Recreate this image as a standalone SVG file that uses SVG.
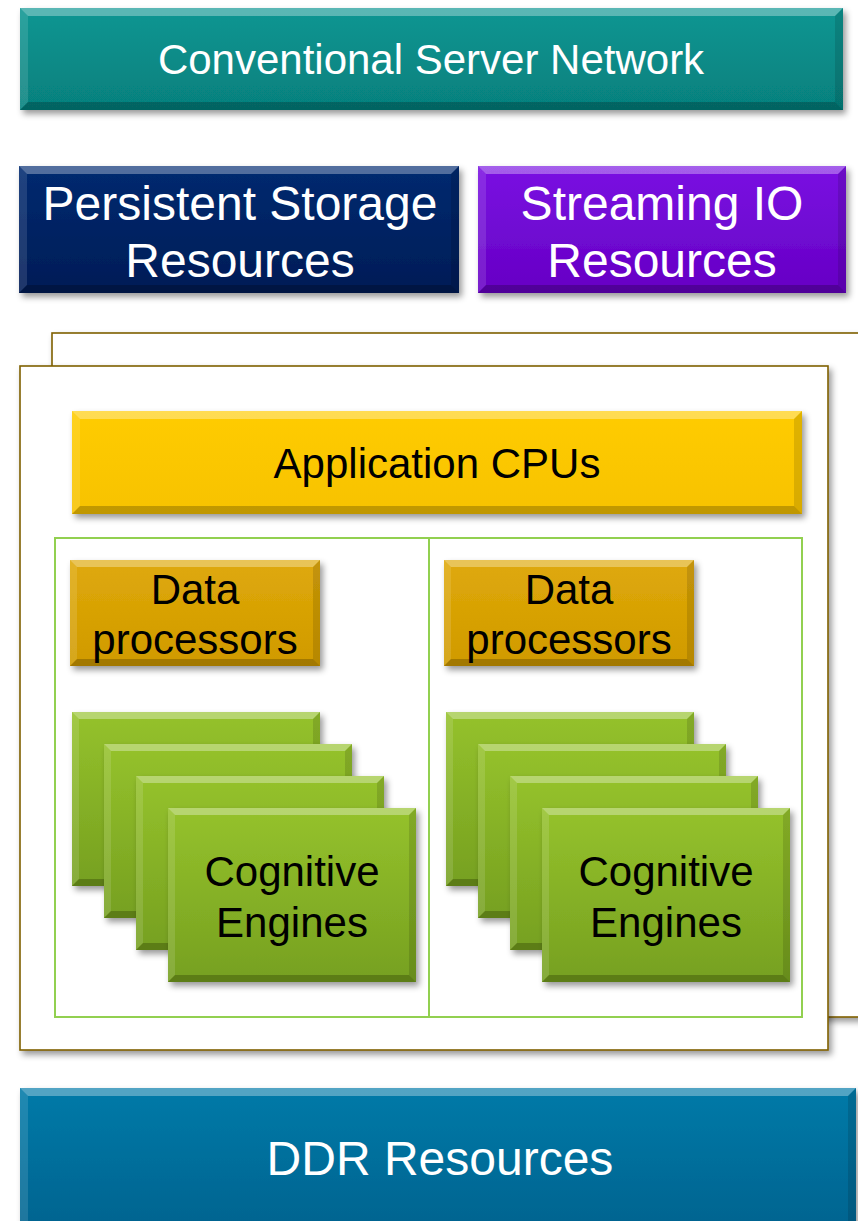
<svg xmlns="http://www.w3.org/2000/svg" xmlns:xlink="http://www.w3.org/1999/xlink" width="858" height="1221" viewBox="0 0 858 1221">
  <style>
    text { font-family: "Liberation Sans", Arial, sans-serif; text-anchor: middle; }
    .w { fill: #ffffff; }
    .k { fill: #000000; }
    .f42 { font-size: 42px; }
    .f48 { font-size: 48px; }
    .bt { fill: #ffffff; fill-opacity: 0.32; }
    .bl { fill: #ffffff; fill-opacity: 0.12; }
    .br { fill: #000000; fill-opacity: 0.12; }
    .bb { fill: #000000; fill-opacity: 0.22; }
    .frame { fill: #ffffff; stroke: #7f6000; stroke-width: 1.6; }
    .panel { fill: none; stroke: #92d050; stroke-width: 2; }
  </style>
  <defs>
    <filter id="shadow" x="-10%" y="-10%" width="125%" height="130%">
      <feDropShadow dx="3" dy="4" stdDeviation="3" flood-color="#000" flood-opacity="0.4"/>
    </filter>
    <linearGradient id="gTeal" x1="0" y1="0" x2="0" y2="1">
      <stop offset="0" stop-color="#0a9692"/><stop offset="1" stop-color="#06807d"/>
    </linearGradient>
    <linearGradient id="gNavy" x1="0" y1="0" x2="0" y2="1">
      <stop offset="0" stop-color="#042a70"/><stop offset="1" stop-color="#001c56"/>
    </linearGradient>
    <linearGradient id="gPurple" x1="0" y1="0" x2="0" y2="1">
      <stop offset="0" stop-color="#7a12e2"/><stop offset="1" stop-color="#6600c4"/>
    </linearGradient>
    <linearGradient id="gGold" x1="0" y1="0" x2="0" y2="1">
      <stop offset="0" stop-color="#ffcc00"/><stop offset="1" stop-color="#f7c200"/>
    </linearGradient>
    <linearGradient id="gAmber" x1="0" y1="0" x2="0" y2="1">
      <stop offset="0" stop-color="#dfa90a"/><stop offset="1" stop-color="#d09a00"/>
    </linearGradient>
    <linearGradient id="gGreen" x1="0" y1="0" x2="0" y2="1">
      <stop offset="0" stop-color="#95c22c"/><stop offset="1" stop-color="#76a020"/>
    </linearGradient>
    <linearGradient id="gBlue" x1="0" y1="0" x2="0" y2="1">
      <stop offset="0" stop-color="#067aa8"/><stop offset="1" stop-color="#04628e"/>
    </linearGradient>

    <!-- bevelled 250x106 tile for data processors -->
    <g id="dpTile">
      <rect width="250" height="106" fill="url(#gAmber)"/>
      <polygon class="bt" points="0,0 250,0 243,7 7,7"/>
      <polygon class="bl" points="0,0 7,7 7,99 0,106"/>
      <polygon class="br" points="250,0 250,106 243,99 243,7"/>
      <polygon class="bb" points="0,106 250,106 243,99 7,99"/>
    </g>
    <!-- bevelled 248x174 tile for cognitive engines -->
    <g id="ceTile">
      <rect width="248" height="174" fill="url(#gGreen)"/>
      <polygon class="bt" points="0,0 248,0 241,7 7,7"/>
      <polygon class="bl" points="0,0 7,7 7,167 0,174"/>
      <polygon class="br" points="248,0 248,174 241,167 241,7"/>
      <polygon class="bb" points="0,174 248,174 241,167 7,167"/>
    </g>
  </defs>

  <rect width="858" height="1221" fill="#ffffff"/>

  <!-- network layer -->
  <g id="node-network" transform="translate(20,8)">
    <rect width="823" height="102" fill="url(#gTeal)" filter="url(#shadow)"/>
    <polygon class="bt" points="0,0 823,0 815,8 8,8"/>
    <polygon class="bl" points="0,0 8,8 8,94 0,102"/>
    <polygon class="br" points="823,0 823,102 815,94 815,8"/>
    <polygon class="bb" points="0,102 823,102 815,94 8,94"/>
    <text class="w f42" x="411" y="66">Conventional Server Network</text>
  </g>

  <!-- storage resources -->
  <g id="node-storage" transform="translate(19,166)">
    <rect width="440" height="127" fill="url(#gNavy)" filter="url(#shadow)"/>
    <polygon class="bt" points="0,0 440,0 432,8 8,8"/>
    <polygon class="bl" points="0,0 8,8 8,119 0,127"/>
    <polygon class="br" points="440,0 440,127 432,119 432,8"/>
    <polygon class="bb" points="0,127 440,127 432,119 8,119"/>
    <text class="w f48" x="221" y="54">Persistent Storage</text>
    <text class="w f48" x="221" y="111">Resources</text>
  </g>

  <!-- streaming IO resources -->
  <g id="node-streaming" transform="translate(478,166)">
    <rect width="368" height="127" fill="url(#gPurple)" filter="url(#shadow)"/>
    <polygon class="bt" points="0,0 368,0 360,8 8,8"/>
    <polygon class="bl" points="0,0 8,8 8,119 0,127"/>
    <polygon class="br" points="368,0 368,127 360,119 360,8"/>
    <polygon class="bb" points="0,127 368,127 360,119 8,119"/>
    <text class="w f48" x="184" y="54">Streaming IO</text>
    <text class="w f48" x="184" y="111">Resources</text>
  </g>

  <!-- stacked compute frames -->
  <g id="node-frame-back">
    <rect class="frame" x="52" y="333" width="830" height="684" filter="url(#shadow)"/>
  </g>
  <g id="node-frame-front">
    <rect class="frame" x="20" y="366" width="808" height="684" filter="url(#shadow)"/>
  </g>

  <!-- application CPUs -->
  <g id="node-cpus" transform="translate(72,411)">
    <rect width="730" height="103" fill="url(#gGold)" filter="url(#shadow)"/>
    <polygon class="bt" points="0,0 730,0 722,8 8,8"/>
    <polygon class="bl" points="0,0 8,8 8,95 0,103"/>
    <polygon class="br" points="730,0 730,103 722,95 722,8"/>
    <polygon class="bb" points="0,103 730,103 722,95 8,95"/>
    <text class="k f42" x="365" y="67">Application CPUs</text>
  </g>

  <!-- processing panels -->
  <g id="node-panel-left">
    <rect class="panel" x="55" y="538" width="374" height="479"/>
  </g>
  <g id="node-panel-right">
    <rect class="panel" x="429" y="538" width="373" height="479"/>
  </g>

  <!-- data processors -->
  <g id="node-dp-left" transform="translate(70,560)">
    <use href="#dpTile" filter="url(#shadow)"/>
    <text class="k f42" x="125" y="44">Data</text>
    <text class="k f42" x="125" y="94">processors</text>
  </g>
  <g id="node-dp-right" transform="translate(444,560)">
    <use href="#dpTile" filter="url(#shadow)"/>
    <text class="k f42" x="125" y="44">Data</text>
    <text class="k f42" x="125" y="94">processors</text>
  </g>

  <!-- cognitive engine stacks -->
  <g id="node-ce-left">
    <use href="#ceTile" x="72" y="712" filter="url(#shadow)"/>
    <use href="#ceTile" x="104" y="744" filter="url(#shadow)"/>
    <use href="#ceTile" x="136" y="776" filter="url(#shadow)"/>
    <use href="#ceTile" x="168" y="808" filter="url(#shadow)"/>
    <text class="k f42" x="292" y="886">Cognitive</text>
    <text class="k f42" x="292" y="937">Engines</text>
  </g>
  <g id="node-ce-right">
    <use href="#ceTile" x="446" y="712" filter="url(#shadow)"/>
    <use href="#ceTile" x="478" y="744" filter="url(#shadow)"/>
    <use href="#ceTile" x="510" y="776" filter="url(#shadow)"/>
    <use href="#ceTile" x="542" y="808" filter="url(#shadow)"/>
    <text class="k f42" x="666" y="886">Cognitive</text>
    <text class="k f42" x="666" y="937">Engines</text>
  </g>

  <!-- memory layer -->
  <g id="node-ddr" transform="translate(20,1088)">
    <rect width="836" height="150" fill="url(#gBlue)" filter="url(#shadow)"/>
    <polygon class="bt" points="0,0 836,0 828,8 8,8"/>
    <polygon class="bl" points="0,0 8,8 8,150 0,150"/>
    <polygon class="br" points="836,0 836,150 828,150 828,8"/>
    <text class="w f48" x="420" y="87">DDR Resources</text>
  </g>

  <!-- no connectors in this diagram -->
  <g id="connectors"/>
</svg>
